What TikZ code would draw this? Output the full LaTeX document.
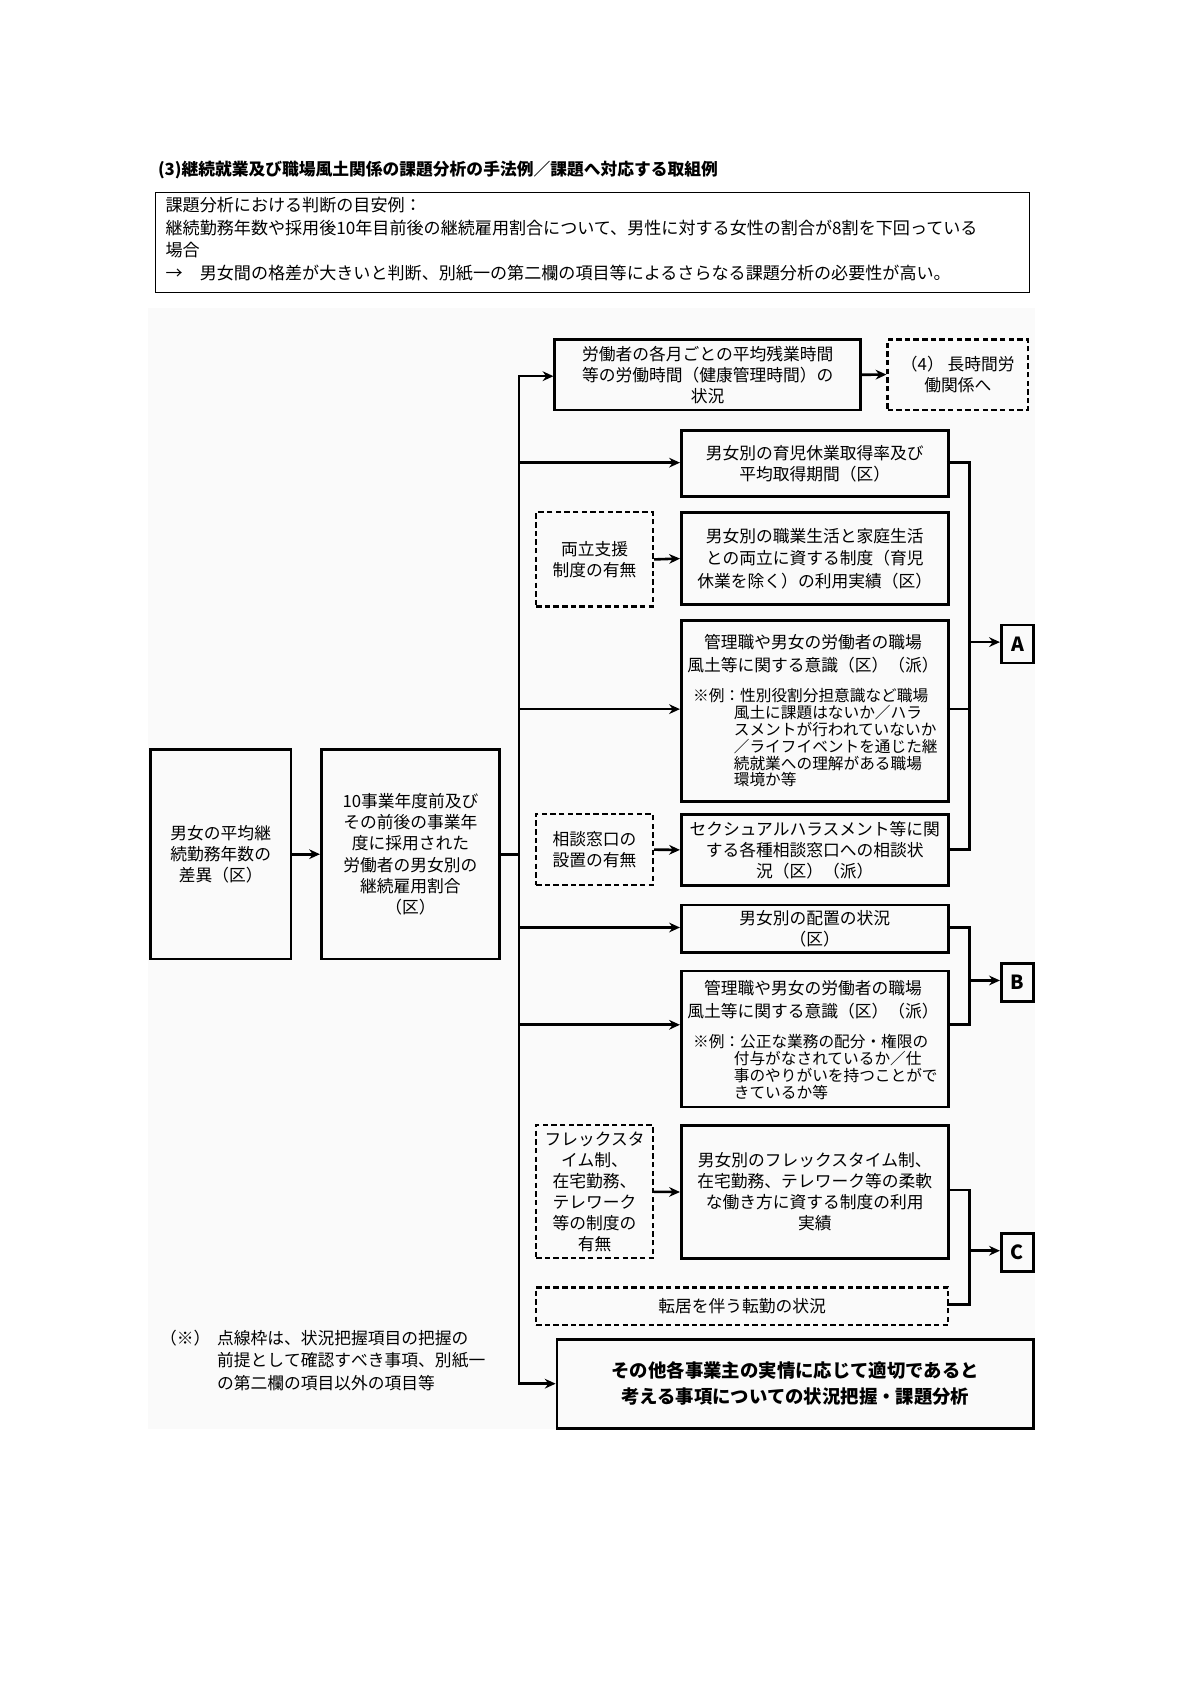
\documentclass[tikz,border=0pt]{standalone}
\usepackage{fontspec}
\setmainfont{Noto Sans CJK JP}
\usetikzlibrary{arrows.meta}
\XeTeXlinebreaklocale "ja"
\begin{document}
\begin{tikzpicture}[x=1pt,y=-1pt,
  every node/.style={font=\fontsize{15.5}{19.5}\selectfont,inner sep=0pt},
  box/.style={draw,line width=2.4pt,anchor=north west,align=center},
  dbox/.style={draw,line width=2pt,dash pattern=on 5pt off 3pt,anchor=north west,align=center},
  arr/.style={line width=2.4pt,-{Stealth[length=10pt,width=9pt]}},
  ln/.style={line width=2.4pt}]
\useasboundingbox (0,0) rectangle (1093,1568);
\fill[gray!4] (137,285) rectangle (957,1322);
\node[anchor=west,font=\fontsize{15.5}{17}\selectfont\bfseries] (title) at (146,157) {(3)継続就業及び職場風土関係の課題分析の手法例／課題へ対応する取組例};
\node[draw,line width=1pt,anchor=north west,minimum width=809pt,minimum height=92pt] (info) at (143,178) {};
\node[anchor=north west,align=left,font=\fontsize{15.8}{21}\selectfont] (infot) at (153,182) {課題分析における判断の目安例：\\継続勤務年数や採用後10年目前後の継続雇用割合について、男性に対する女性の割合が8割を下回っている\\場合\\→　男女間の格差が大きいと判断、別紙一の第二欄の項目等によるさらなる課題分析の必要性が高い。};

\node[box,minimum width=130pt,minimum height=194pt] (b1) at (138,692) {男女の平均継\\続勤務年数の\\差異（区）};
\node[box,minimum width=165pt,minimum height=194pt] (b2) at (296,692) {10事業年度前及び\\その前後の事業年\\度に採用された\\労働者の男女別の\\継続雇用割合\\（区）};
\draw[arr] (b1.east) -- (b2.west);

\node[box,minimum width=283pt,minimum height=65pt] (t1) at (512,313) {労働者の各月ごとの平均残業時間\\等の労働時間（健康管理時間）の\\状況};
\node[dbox,minimum width=130pt,minimum height=65pt] (t2) at (820,313) {（4）  長時間労\\働関係へ};
\draw[arr] (t1.east) -- (t2.west);

\node[box,minimum width=247pt,minimum height=61pt] (r1) at (629,397) {男女別の育児休業取得率及び\\平均取得期間（区）};
\node[dbox,minimum width=108pt,minimum height=87pt] (d1) at (495,473) {両立支援\\制度の有無};
\node[box,minimum width=247pt,minimum height=85pt,font=\fontsize{15.5}{21}\selectfont] (r2) at (629,473) {男女別の職業生活と家庭生活\\との両立に資する制度（育児\\休業を除く）の利用実績（区）};
\draw[arr] (d1.east) -- (r2.west);
\node[box,minimum width=247pt,minimum height=167pt] (r3) at (629,573) {};
\node[align=center,font=\fontsize{15.5}{21}\selectfont] (r3a) at (752,605) {管理職や男女の労働者の職場\\風土等に関する意識（区）（派）};
\node[anchor=north west,align=left,font=\fontsize{14.5}{15.5}\selectfont] (r3b) at (641,637) {※例：性別役割分担意識など職場\\\hspace*{2.6em}風土に課題はないか／ハラ\\\hspace*{2.6em}スメントが行われていないか\\\hspace*{2.6em}／ライフイベントを通じた継\\\hspace*{2.6em}続就業への理解がある職場\\\hspace*{2.6em}環境か等};
\node[dbox,minimum width=108pt,minimum height=66pt] (d2) at (495,752) {相談窓口の\\設置の有無};
\node[box,minimum width=247pt,minimum height=66pt] (r4) at (629,752) {セクシュアルハラスメント等に関\\する各種相談窓口への相談状\\況（区）（派）};
\draw[arr] (d2.east) -- (r4.west);

\node[box,minimum width=247pt,minimum height=44pt] (r5) at (629,836) {男女別の配置の状況\\（区）};
\node[box,minimum width=247pt,minimum height=126pt] (r6) at (629,897) {};
\node[align=center,font=\fontsize{15.5}{21}\selectfont] (r6a) at (752,925) {管理職や男女の労働者の職場\\風土等に関する意識（区）（派）};
\node[anchor=north west,align=left,font=\fontsize{14.5}{15.5}\selectfont] (r6b) at (641,957) {※例：公正な業務の配分・権限の\\\hspace*{2.6em}付与がなされているか／仕\\\hspace*{2.6em}事のやりがいを持つことがで\\\hspace*{2.6em}きているか等};

\node[dbox,minimum width=108pt,minimum height=123pt] (d3) at (495,1040) {フレックスタ\\イム制、\\在宅勤務、\\テレワーク\\等の制度の\\有無};
\node[box,minimum width=247pt,minimum height=123pt] (r7) at (629,1040) {男女別のフレックスタイム制、\\在宅勤務、テレワーク等の柔軟\\な働き方に資する制度の利用\\実績};
\draw[arr] (d3.east) -- (r7.west);
\node[dbox,minimum width=381pt,minimum height=35pt] (d4) at (495,1190) {転居を伴う転勤の状況};
\node[box,minimum width=441pt,minimum height=82pt,font=\fontsize{17}{24}\selectfont\bfseries] (r8) at (514,1238) {その他各事業主の実情に応じて適切であると\\考える事項についての状況把握・課題分析};

\node[box,minimum width=30pt,minimum height=35pt,font=\fontsize{18}{20}\selectfont\bfseries] (A) at (925,577) {A};
\node[box,minimum width=30pt,minimum height=35pt,font=\fontsize{18}{20}\selectfont\bfseries] (B) at (925,890) {B};
\node[box,minimum width=30pt,minimum height=35pt,font=\fontsize{18}{20}\selectfont\bfseries] (C) at (925,1140) {C};

\coordinate (tr) at (480,786);
\draw[ln] (b2.east) -- (b2.east -| tr);
\draw[ln] (480,347) -- (480,1281);
\draw[arr] (480,348) -- (480,348 -| t1.west);
\draw[arr] (480,428) -- (480,428 -| r1.west);
\draw[arr] (480,656) -- (480,656 -| r3.west);
\draw[arr] (480,858) -- (480,858 -| r5.west);
\draw[arr] (480,948) -- (480,948 -| r6.west);
\draw[arr] (480,1280) -- (480,1280 -| r8.west);

\draw[ln] (876,428) -- (897,428) -- (897,786) -- (876,786);
\draw[ln] (876,656) -- (897,656);
\draw[arr] (897,594) -- (897,594 -| A.west);
\draw[ln] (876,858) -- (897,858) -- (897,948) -- (876,948);
\draw[arr] (897,907) -- (897,907 -| B.west);
\draw[ln] (876,1101) -- (897,1101) -- (897,1207) -- (876,1207);
\draw[arr] (897,1157) -- (897,1157 -| C.west);

\node[anchor=north west,align=left,font=\fontsize{15.5}{21}\selectfont] (note) at (148,1230) {（※）\hspace{0.4em}\parbox[t]{250pt}{点線枠は、状況把握項目の把握の\\前提として確認すべき事項、別紙一\\の第二欄の項目以外の項目等}};
\end{tikzpicture}
\end{document}
